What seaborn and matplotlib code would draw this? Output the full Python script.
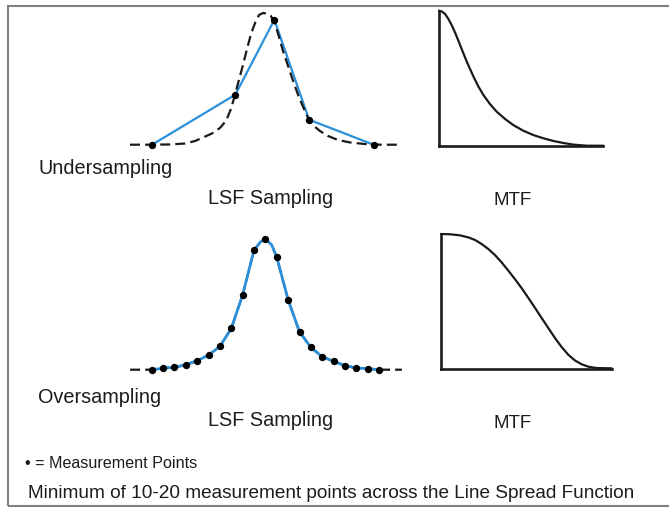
import numpy as np
import pandas as pd
import matplotlib
matplotlib.use("Agg")
import matplotlib.pyplot as plt
from matplotlib.patches import Rectangle
import seaborn as sns

# ---------------- data ----------------
# Upper panel: true LSF (dashed) and the 5 undersampled measurement points
lsf_true_x = [-11.91, -10.15, -8.39, -7.07, -6.19, -5.49, -4.70, -4.00, -3.47,
              -3.03, -2.67, -2.32, -1.97, -1.62, -1.27, -0.91, -0.56, -0.21,
              0.14, 0.49, 0.85, 1.20, 1.55, 2.00, 2.44, 2.88, 3.32, 3.76,
              4.27, 4.80, 5.51, 6.38, 7.44, 8.76, 10.08, 11.99]
lsf_true_y = [0.0, 0.0, 0.002, 0.009, 0.028, 0.055, 0.085, 0.127, 0.180,
              0.271, 0.38, 0.494, 0.605, 0.727, 0.840, 0.924, 0.985, 1.0,
              0.996, 0.977, 0.916, 0.818, 0.711, 0.597, 0.483, 0.377, 0.286,
              0.202, 0.142, 0.104, 0.066, 0.036, 0.017, 0.005, 0.0, 0.0]
under_x = [-9.97, -2.64, 0.79, 3.84, 9.52]
under_y = [0.0, 0.38, 0.949, 0.19, 0.0]

# Lower panel: 21 oversampled measurement points
over_x = list(range(-10, 11))
over_y = [0.0, 0.011, 0.018, 0.038, 0.069, 0.112, 0.178, 0.316, 0.573, 0.915,
          1.0, 0.86, 0.534, 0.290, 0.170, 0.099, 0.064, 0.031, 0.013, 0.008, 0.0]
# blue fitted curve through them (with extra readings at the rounded top)
over_curve_x = [-10, -9, -8, -7, -6, -5, -4, -3, -2, -1, -0.43, 0, 0.55, 1,
                2, 3, 4, 5, 6, 7, 8, 9, 10]
over_curve_y = [0.0, 0.011, 0.018, 0.038, 0.069, 0.112, 0.178, 0.316, 0.573,
                0.915, 0.978, 1.0, 0.955, 0.86, 0.534, 0.290, 0.170, 0.099,
                0.064, 0.031, 0.013, 0.008, 0.0]
over_ends_x = [-11.9, 12.0]

# MTF curves (normalised frequency, normalised MTF)
mtf_under_f = [0.0, 0.016, 0.037, 0.057, 0.077, 0.097, 0.118, 0.138, 0.158,
               0.178, 0.209, 0.239, 0.270, 0.310, 0.351, 0.402, 0.452, 0.513,
               0.574, 0.635, 0.696, 0.757, 0.818, 0.899, 1.0]
mtf_under_v = [1.0, 0.995, 0.976, 0.939, 0.894, 0.840, 0.778, 0.716, 0.655,
               0.598, 0.514, 0.440, 0.376, 0.309, 0.252, 0.198, 0.153, 0.111,
               0.079, 0.055, 0.035, 0.020, 0.008, 0.0, 0.0]
mtf_over_f = [0.0, 0.053, 0.111, 0.160, 0.199, 0.238, 0.277, 0.316, 0.355,
              0.395, 0.434, 0.473, 0.512, 0.551, 0.590, 0.629, 0.668, 0.707,
              0.746, 0.785, 0.824, 0.863, 0.912, 1.0]
mtf_over_v = [1.0, 0.998, 0.990, 0.975, 0.956, 0.926, 0.889, 0.844, 0.790,
              0.728, 0.664, 0.598, 0.526, 0.452, 0.377, 0.303, 0.229, 0.162,
              0.105, 0.063, 0.035, 0.017, 0.007, 0.005]

labels_row = ["Undersampling", "Oversampling"]
label_lsf = "LSF Sampling"
label_mtf = "MTF"
footer1 = "\u2022 = Measurement Points"
footer2 = "Minimum of 10-20 measurement points across the Line Spread Function"

# ---------------- figure ----------------
sns.set_theme(style="white")
plt.rcParams["font.family"] = ["Liberation Sans", "DejaVu Sans"]
plt.rcParams["lines.solid_joinstyle"] = "round"
plt.rcParams["lines.solid_capstyle"] = "round"

W, H = 669, 510
fig = plt.figure(figsize=(W / 100, H / 100), dpi=100)
fig.patch.set_facecolor("white")

BLUE = "#2b8fd9"
INK = "#1a1a1a"


def add_ax(left, right, top, bottom, xlim, ylim):
    ax = fig.add_axes([left / W, 1 - bottom / H, (right - left) / W, (bottom - top) / H])
    ax.set_xlim(*xlim)
    ax.set_ylim(*ylim)
    ax.set_facecolor("none")
    for s in ax.spines.values():
        s.set_visible(False)
    ax.set_xticks([])
    ax.set_yticks([])
    return ax


LSF_XLIM = ((130 - 265.4) / 11.37, (401.7 - 265.4) / 11.37)

# ---- upper LSF ----
ax1 = add_ax(130, 401.7, 14, 145.7, LSF_XLIM, (0, 1))
d_true = pd.DataFrame({"x": lsf_true_x, "y": lsf_true_y})
d_under = pd.DataFrame({"x": under_x, "y": under_y})
sns.lineplot(data=d_under, x="x", y="y", ax=ax1, color=BLUE, lw=1.6,
             estimator=None, clip_on=False, zorder=2)
sns.lineplot(data=d_true, x="x", y="y", ax=ax1, color=INK, lw=1.6,
             estimator=None, clip_on=False, zorder=3)
ax1.lines[-1].set_dashes((4.5, 2.3))
sns.scatterplot(data=d_under, x="x", y="y", ax=ax1, color="black", s=28,
                edgecolor="black", linewidth=0, clip_on=False, zorder=4)
ax1.set_xlabel(""); ax1.set_ylabel("")

# ---- lower LSF ----
ax2 = add_ax(130, 401.7, 240, 370.7, LSF_XLIM, (0, 1))
d_over = pd.DataFrame({"x": over_x, "y": over_y})
d_curve = pd.DataFrame({"x": over_curve_x, "y": over_curve_y})
d_over_dash = pd.DataFrame({"x": [over_ends_x[0]] + over_curve_x + [over_ends_x[1]],
                            "y": [0.0] + over_curve_y + [0.0]})
sns.lineplot(data=d_over_dash, x="x", y="y", ax=ax2, color=INK, lw=1.6,
             estimator=None, clip_on=False, zorder=2)
ax2.lines[-1].set_dashes((4.5, 2.3))
sns.lineplot(data=d_curve, x="x", y="y", ax=ax2, color=BLUE, lw=2.0,
             estimator=None, clip_on=False, zorder=3)
sns.scatterplot(data=d_over, x="x", y="y", ax=ax2, color="black", s=28,
                edgecolor="black", linewidth=0, clip_on=False, zorder=4)
ax2.set_xlabel(""); ax2.set_ylabel("")


# ---- MTF panels ----
def mtf_panel(left, right, top, bottom, f, v):
    ax = add_ax(left, right, top, bottom, (0, 1), (0, 1))
    for side in ("left", "bottom"):
        ax.spines[side].set_visible(True)
        ax.spines[side].set_color(INK)
        ax.spines[side].set_linewidth(1.9)
    d = pd.DataFrame({"f": f, "v": v})
    sns.lineplot(data=d, x="f", y="v", ax=ax, color=INK, lw=1.6,
                 estimator=None, clip_on=False)
    ax.set_xlabel(""); ax.set_ylabel("")
    return ax


mtf_panel(439, 603.3, 11.7, 146.7, mtf_under_f, mtf_under_v)
mtf_panel(441, 611.7, 235, 370, mtf_over_f, mtf_over_v)


# ---- text ----
def ftext(x, y, s, size, ha="left"):
    fig.text(x / W, 1 - y / H, s, fontsize=size, ha=ha, va="baseline", color="#1c1c1c")


ftext(38, 174, labels_row[0], 14.3)
ftext(270.5, 204.5, label_lsf, 14.3, ha="center")
ftext(512.5, 205, label_mtf, 13.5, ha="center")
ftext(38, 403, labels_row[1], 14.3)
ftext(270.5, 426.3, label_lsf, 14.3, ha="center")
ftext(512.5, 428.3, label_mtf, 13.5, ha="center")
ftext(25, 468, footer1, 11.6)
ftext(28, 498.3, footer2, 13.7)

# ---- frame ----
fig.patches.append(Rectangle((8 / W, 1 - 507 / H), (720 - 8) / W, (507 - 7) / H,
                             transform=fig.transFigure, fill=False,
                             edgecolor="#808080", lw=1.5, zorder=0))

fig.savefig("out.png", dpi=100, facecolor="white")
